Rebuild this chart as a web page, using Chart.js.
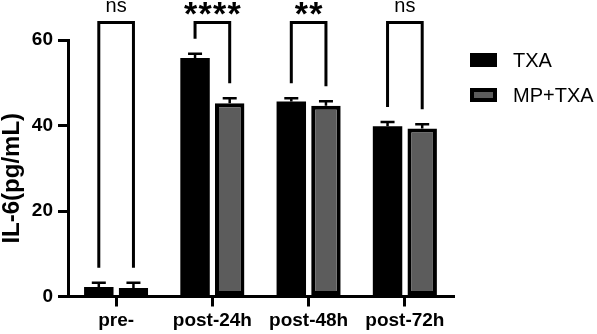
<!DOCTYPE html>
<html>
<head>
<meta charset="utf-8">
<script src="https://cdn.jsdelivr.net/npm/chart.js@4.4.1/dist/chart.umd.min.js"></script>
<style>
  html, body { margin: 0; padding: 0; background: #fff; }
  #wrap { width: 597px; height: 334px; }
</style>
</head>
<body>
<div id="wrap"><canvas id="grafico" width="597" height="334"></canvas></div>
<script>
// Datos
const categories = ['pre-', 'post-24h', 'post-48h', 'post-72h'];
const txaValues = [2.2, 55.8, 45.6, 39.8];
const txaErrors = [1.0, 1.0, 0.8, 1.0];
const mpTxaValues = [2.0, 45.2, 44.6, 39.3];
const mpTxaErrors = [1.2, 1.2, 1.1, 1.0];
const yTicks = [0, 20, 40, 60];
const sigLabels = ['ns', '****', '**', 'ns'];
const yTitle = 'IL-6(pg/mL)';

const FONT = "'Liberation Sans', Arial, sans-serif";

// Barras de error, corchetes de significancia, titulo del eje y leyenda
const extrasPlugin = {
    id: 'extras',
    afterDatasetsDraw(chart) {
        const ctx = chart.ctx;
        const y = chart.scales.y;
        const metas = [chart.getDatasetMeta(0), chart.getDatasetMeta(1)];
        const vals = [txaValues, mpTxaValues];
        const errs = [txaErrors, mpTxaErrors];

        ctx.save();
        ctx.strokeStyle = '#000';
        ctx.lineWidth = 2.5;
        metas.forEach((meta, d) => {
            meta.data.forEach((bar, i) => {
                const top = y.getPixelForValue(vals[d][i] + errs[d][i]);
                ctx.beginPath();
                ctx.moveTo(bar.x, bar.y);
                ctx.lineTo(bar.x, top);
                ctx.moveTo(bar.x - 7, top);
                ctx.lineTo(bar.x + 7, top);
                ctx.stroke();
            });
        });

        // corchetes
        const bracketTop = y.getPixelForValue(64.1);
        ctx.lineWidth = 3;
        ctx.lineJoin = 'miter';
        categories.forEach((c, i) => {
            const b0 = metas[0].data[i], b1 = metas[1].data[i];
            const e0 = y.getPixelForValue(txaValues[i] + txaErrors[i] + 3.5);
            const e1 = y.getPixelForValue(mpTxaValues[i] + mpTxaErrors[i] + 3.5);
            ctx.beginPath();
            ctx.moveTo(b0.x, e0);
            ctx.lineTo(b0.x, bracketTop);
            ctx.lineTo(b1.x, bracketTop);
            ctx.lineTo(b1.x, e1);
            ctx.stroke();

            const cx = (b0.x + b1.x) / 2;
            ctx.fillStyle = '#000';
            ctx.textBaseline = 'alphabetic';
            ctx.textAlign = 'center';
            const label = sigLabels[i];
            if (label === 'ns') {
                ctx.font = '20px ' + FONT;
                ctx.fillText(label, cx, bracketTop - 10);
            } else {
                ctx.font = 'bold 34px ' + FONT;
                const step = 14.5;
                const n = label.length;
                for (let k = 0; k < n; k++) {
                    ctx.fillText('*', cx + (k - (n - 1) / 2) * step, bracketTop + 3);
                }
            }
        });

        // titulo del eje y
        const area = chart.chartArea;
        ctx.save();
        ctx.translate(12, (area.top + area.bottom) / 2 + 10);
        ctx.rotate(-Math.PI / 2);
        ctx.font = 'bold 24px ' + FONT;
        ctx.textAlign = 'center';
        ctx.textBaseline = 'middle';
        ctx.fillText(yTitle, 0, 0);
        ctx.restore();

        // leyenda
        const lx = area.right + 17;
        const ly = area.top + 13;
        chart.data.datasets.forEach((ds, d) => {
            const by = ly + d * 35;
            ctx.fillStyle = '#000';
            ctx.fillRect(lx, by, 27, 14);
            ctx.fillStyle = ds.backgroundColor;
            ctx.fillRect(lx + 4, by + 4, 19, 6);
            ctx.fillStyle = '#000';
            ctx.font = '20px ' + FONT;
            ctx.textAlign = 'left';
            ctx.textBaseline = 'middle';
            ctx.fillText(ds.label, lx + 43, by + 8);
        });
        ctx.restore();
    }
};

const ctx = document.getElementById('grafico').getContext('2d');
new Chart(ctx, {
    type: 'bar',
    data: {
        labels: categories,
        datasets: [
            {
                label: 'TXA',
                data: txaValues,
                backgroundColor: '#000000',
                borderColor: '#000000',
                borderWidth: 0
            },
            {
                label: 'MP+TXA',
                data: mpTxaValues,
                backgroundColor: '#5c5c5c',
                borderColor: '#000000',
                borderWidth: 4,
                borderSkipped: false
            }
        ]
    },
    options: {
        responsive: false,
        animation: false,
        devicePixelRatio: 1,
        categoryPercentage: 0.72,
        barPercentage: 0.85,
        layout: { padding: { top: 40, right: 144, left: 0, bottom: 0 } },
        plugins: {
            legend: { display: false },
            tooltip: { enabled: false }
        },
        scales: {
            x: {
                grid: { offset: false, drawOnChartArea: false, drawTicks: true, tickLength: 10, color: '#000', lineWidth: 3 },
                border: { color: '#000', width: 3 },
                ticks: { color: '#000', font: { family: FONT, size: 19, weight: 'bold' }, padding: 3 },
                afterFit(scale) { scale.height = 37.5; }
            },
            y: {
                min: 0,
                max: 60,
                afterBuildTicks(scale) { scale.ticks = yTicks.map(v => ({ value: v })); },
                grid: { drawOnChartArea: false, drawTicks: true, tickLength: 10, color: '#000', lineWidth: 3 },
                border: { color: '#000', width: 3 },
                ticks: { color: '#000', font: { family: FONT, size: 19, weight: 'bold' }, padding: 5 },
                afterFit(scale) { scale.width = 68; }
            }
        }
    },
    plugins: [extrasPlugin]
});
</script>
</body>
</html>
